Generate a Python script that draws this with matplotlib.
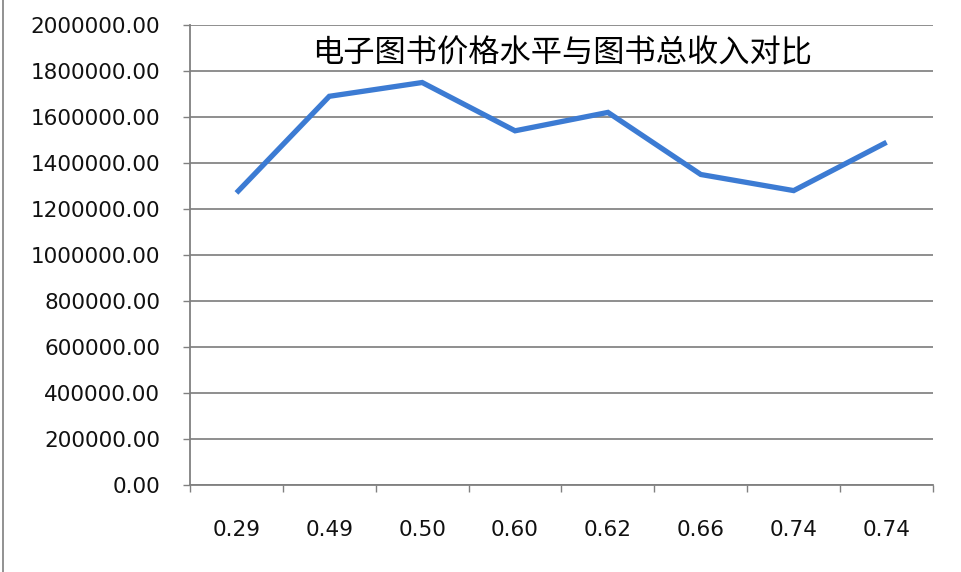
#!/usr/bin/env python3

import matplotlib
matplotlib.use('Agg')
from matplotlib import pyplot as plt
from matplotlib.lines import Line2D

# data
price_labels = ['0.29', '0.49', '0.50', '0.60', '0.62', '0.66', '0.74', '0.74']
total_income = [1270000, 1690000, 1750000, 1540000, 1620000, 1350000, 1280000, 1490000]
y_ticks = [0, 200000, 400000, 600000, 800000, 1000000,
           1200000, 1400000, 1600000, 1800000, 2000000]
title = '电子图书价格水平与图书总收入对比'

plt.rcParams['font.family'] = ['DejaVu Sans']

fig = plt.figure(figsize=(9.62, 5.72), dpi=100)
ax = fig.add_axes([190 / 962, 87 / 572, 743 / 962, 460 / 572])

xs = list(range(len(price_labels)))
ax.plot(xs, total_income, color='#3c7bd3', linewidth=3.8,
        solid_joinstyle='miter', solid_capstyle='butt')

ax.set_xlim(-0.5, len(price_labels) - 0.5)
ax.set_ylim(0, 2000000)
ax.set_yticks(y_ticks)
ax.set_yticklabels(['{:.2f}'.format(v) for v in y_ticks])

# category labels centred, tick marks on category boundaries (Excel style)
ax.set_xticks(xs)
ax.set_xticklabels(price_labels)
ax.set_xticks([x - 0.5 for x in range(len(price_labels) + 1)], minor=True)
ax.tick_params(axis='x', which='major', length=0, pad=25, labelsize=15.5,
               labelcolor='#111111')
ax.tick_params(axis='x', which='minor', length=5, width=1.0, color='#808080')
ax.tick_params(axis='y', length=5, width=1.0, color='#808080', pad=16.5,
               labelsize=15.5, labelcolor='#111111')

ax.grid(True, axis='y', color='#868686', linewidth=1.3)
ax.set_axisbelow(True)
for side in ('top', 'right'):
    ax.spines[side].set_visible(False)
for side in ('left', 'bottom'):
    ax.spines[side].set_color('#808080')
    ax.spines[side].set_linewidth(1.3)

fig.text(562 / 962, 1 - 53 / 572, title, ha='center', va='center',
         fontsize=22.5, family=['Noto Sans CJK SC', 'DejaVu Sans'],
         fontweight='light')

# chart frame edge on the left
fig.add_artist(Line2D([3 / 962, 3 / 962], [0, 1], color='#7f7f7f',
                      linewidth=1.2, transform=fig.transFigure))

fig.savefig('out.png', dpi=100, facecolor='white')
